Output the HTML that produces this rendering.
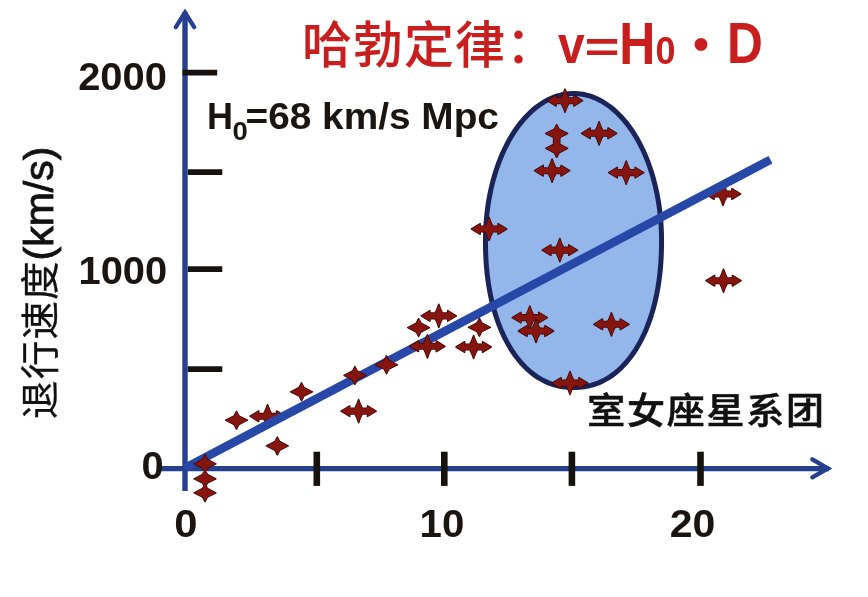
<!DOCTYPE html>
<html><head><meta charset="utf-8"><style>
html,body{margin:0;padding:0;background:#fff;}
svg{display:block;}
.mk{fill:#86150f;stroke:#3a0604;stroke-width:1.5;stroke-linejoin:round;paint-order:stroke;}
.num{font-family:"Liberation Sans",sans-serif;font-weight:bold;fill:#1a1511;}
</style></head><body>
<svg width="868" height="597" viewBox="0 0 868 597">
<rect width="868" height="597" fill="#fff"/>
<!-- ellipse -->
<path d="M661.55,240.50 L661.52,245.46 L661.44,249.95 L661.30,254.27 L661.10,258.49 L660.85,262.62 L660.54,266.67 L660.18,270.67 L659.76,274.60 L659.28,278.48 L658.76,282.31 L658.17,286.08 L657.53,289.80 L656.84,293.47 L656.10,297.09 L655.30,300.65 L654.45,304.16 L653.54,307.62 L652.59,311.02 L651.58,314.36 L650.52,317.64 L649.41,320.87 L648.26,324.03 L647.05,327.13 L645.80,330.17 L644.49,333.14 L643.14,336.05 L641.75,338.89 L640.30,341.66 L638.82,344.36 L637.28,346.99 L635.71,349.55 L634.09,352.03 L632.43,354.44 L630.73,356.77 L628.99,359.02 L627.21,361.20 L625.39,363.29 L623.53,365.31 L621.64,367.24 L619.71,369.09 L617.74,370.86 L615.74,372.54 L613.70,374.13 L611.63,375.64 L609.53,377.06 L607.40,378.40 L605.23,379.64 L603.03,380.80 L600.80,381.86 L598.54,382.83 L596.25,383.72 L593.93,384.51 L591.57,385.21 L589.18,385.82 L586.75,386.33 L584.27,386.75 L581.75,387.08 L579.16,387.31 L576.47,387.45 L573.50,387.50 L570.53,387.45 L567.84,387.31 L565.25,387.08 L562.73,386.75 L560.25,386.33 L557.82,385.82 L555.43,385.21 L553.07,384.51 L550.75,383.72 L548.46,382.83 L546.20,381.86 L543.97,380.80 L541.77,379.64 L539.60,378.40 L537.47,377.06 L535.37,375.64 L533.30,374.13 L531.26,372.54 L529.26,370.86 L527.29,369.09 L525.36,367.24 L523.47,365.31 L521.61,363.29 L519.79,361.20 L518.01,359.02 L516.27,356.77 L514.57,354.44 L512.91,352.03 L511.29,349.55 L509.72,346.99 L508.18,344.36 L506.70,341.66 L505.25,338.89 L503.86,336.05 L502.51,333.14 L501.20,330.17 L499.95,327.13 L498.74,324.03 L497.59,320.87 L496.48,317.64 L495.42,314.36 L494.41,311.02 L493.46,307.62 L492.55,304.16 L491.70,300.65 L490.90,297.09 L490.16,293.47 L489.47,289.80 L488.83,286.08 L488.24,282.31 L487.72,278.48 L487.24,274.60 L486.82,270.67 L486.46,266.67 L486.15,262.62 L485.90,258.49 L485.70,254.27 L485.56,249.95 L485.48,245.46 L485.45,240.50 L485.48,236.65 L485.57,232.81 L485.72,228.97 L485.93,225.13 L486.20,221.31 L486.53,217.50 L486.92,213.71 L487.37,209.94 L487.88,206.18 L488.45,202.45 L489.08,198.75 L489.76,195.07 L490.50,191.43 L491.30,187.82 L492.15,184.25 L493.06,180.71 L494.03,177.21 L495.05,173.76 L496.12,170.36 L497.25,167.00 L498.43,163.69 L499.66,160.44 L500.94,157.24 L502.27,154.10 L503.65,151.01 L505.07,147.99 L506.55,145.03 L508.07,142.14 L509.63,139.31 L511.24,136.56 L512.89,133.87 L514.58,131.26 L516.32,128.72 L518.09,126.26 L519.90,123.88 L521.75,121.57 L523.63,119.35 L525.54,117.22 L527.49,115.16 L529.47,113.19 L531.49,111.31 L533.53,109.52 L535.59,107.82 L537.69,106.21 L539.80,104.69 L541.95,103.26 L544.11,101.93 L546.29,100.69 L548.49,99.55 L550.71,98.51 L552.95,97.56 L555.19,96.71 L557.45,95.96 L559.73,95.31 L562.01,94.76 L564.30,94.31 L566.59,93.95 L568.89,93.70 L571.20,93.55 L573.50,93.50 L575.80,93.55 L578.11,93.70 L580.41,93.95 L582.70,94.31 L584.99,94.76 L587.27,95.31 L589.55,95.96 L591.81,96.71 L594.05,97.56 L596.29,98.51 L598.51,99.55 L600.71,100.69 L602.89,101.93 L605.05,103.26 L607.20,104.69 L609.31,106.21 L611.41,107.82 L613.47,109.52 L615.51,111.31 L617.52,113.19 L619.51,115.16 L621.46,117.22 L623.37,119.35 L625.25,121.57 L627.10,123.88 L628.91,126.26 L630.68,128.72 L632.42,131.26 L634.11,133.87 L635.76,136.56 L637.37,139.31 L638.93,142.14 L640.45,145.03 L641.93,147.99 L643.35,151.01 L644.73,154.10 L646.06,157.24 L647.34,160.44 L648.57,163.69 L649.75,167.00 L650.88,170.36 L651.95,173.76 L652.97,177.21 L653.94,180.71 L654.85,184.25 L655.70,187.82 L656.50,191.43 L657.24,195.07 L657.92,198.75 L658.55,202.45 L659.12,206.18 L659.63,209.94 L660.08,213.71 L660.47,217.50 L660.80,221.31 L661.07,225.13 L661.28,228.97 L661.43,232.81 L661.52,236.65Z" fill="#93b6eb" stroke="#1b2459" stroke-width="5.0"/>
<!-- axes -->
<g stroke="#263f8e" fill="none">
<line x1="185" y1="491" x2="185" y2="12" stroke-width="5.4"/>
<line x1="156.7" y1="468.6" x2="829" y2="468.6" stroke-width="5.3"/>
<polyline points="175.8,27.2 185,12.5 194.2,27.2" stroke-width="4.3" stroke-linecap="round" stroke-linejoin="miter" stroke-miterlimit="10"/>
<polyline points="812.3,459.3 828,468.4 812.3,477.3" stroke-width="4.3" stroke-linecap="round" stroke-linejoin="miter" stroke-miterlimit="10"/>
</g>
<!-- ticks -->
<g stroke="#16120f" stroke-width="5.8">
<line x1="182.6" y1="72.7" x2="217.2" y2="72.7"/>
<line x1="187.8" y1="172.2" x2="222.3" y2="172.2"/>
<line x1="187.8" y1="269.2" x2="222.3" y2="269.2"/>
<line x1="187.8" y1="369.2" x2="222.3" y2="369.2"/>
</g>
<g stroke="#16120f" stroke-width="6.6">
<line x1="316.8" y1="451.7" x2="316.8" y2="485.9"/>
<line x1="444.3" y1="451.7" x2="444.3" y2="485.9"/>
<line x1="571.9" y1="451.7" x2="571.9" y2="485.9"/>
<line x1="700.5" y1="451.7" x2="700.5" y2="485.9"/>
</g>
<path class="mk" d="M723.00,182.40 Q725.00,188.40 726.70,191.20 L731.90,191.20 L731.90,188.70 L740.60,194.00 L731.90,199.30 L731.90,196.80 L726.70,196.80 Q725.00,199.60 723.00,205.60 Q721.00,199.60 719.30,196.80 L714.10,196.80 L714.10,199.30 L705.40,194.00 L714.10,188.70 L714.10,191.20 L719.30,191.20 Q721.00,188.40 723.00,182.40Z"/>
<path class="mk" d="M267.60,404.60 Q269.60,410.60 271.30,413.40 L276.50,413.40 L276.50,410.90 L285.20,416.20 L276.50,421.50 L276.50,419.00 L271.30,419.00 Q269.60,421.80 267.60,427.80 Q265.60,421.80 263.90,419.00 L258.70,419.00 L258.70,421.50 L250.00,416.20 L258.70,410.90 L258.70,413.40 L263.90,413.40 Q265.60,410.60 267.60,404.60Z"/>
<!-- regression line -->
<line x1="185" y1="468" x2="770.5" y2="159.7" stroke="#2848a8" stroke-width="8.5"/>
<!-- markers -->
<path class="mk" d="M545.8,133.5 L554.4,129.1 L556.7,124.6 L559.0,129.1 L567.6,133.5 L559.0,137.9 L556.7,142.4 L554.4,137.9Z M545.8,148.4 L554.4,144.0 L556.7,139.5 L559.0,144.0 L567.6,148.4 L559.0,152.8 L556.7,157.3 L554.4,152.8Z M553.6,136 L559.8,136 L559.8,146 L553.6,146Z"/>
<path class="mk" d="M194.1,463.8 L202.7,459.4 L205.0,454.9 L207.3,459.4 L215.9,463.8 L207.3,468.2 L205.0,472.7 L202.7,468.2Z M194.1,478.8 L202.7,474.4 L205.0,469.9 L207.3,474.4 L215.9,478.8 L207.3,483.2 L205.0,487.7 L202.7,483.2Z M194.1,492.8 L202.7,488.4 L205.0,483.9 L207.3,488.4 L215.9,492.8 L207.3,497.2 L205.0,501.7 L202.7,497.2Z"/>
<path class="mk" d="M225.6,420.2 L234.2,415.8 L236.5,411.3 L238.8,415.8 L247.4,420.2 L238.8,424.6 L236.5,429.1 L234.2,424.6Z"/>
<path class="mk" d="M266.4,445.9 L275.0,441.5 L277.3,437.0 L279.6,441.5 L288.2,445.9 L279.6,450.3 L277.3,454.8 L275.0,450.3Z"/>
<path class="mk" d="M290.6,391.8 L299.2,387.4 L301.5,382.9 L303.8,387.4 L312.4,391.8 L303.8,396.2 L301.5,400.7 L299.2,396.2Z"/>
<path class="mk" d="M344.0,375.4 L352.6,371.0 L354.9,366.5 L357.2,371.0 L365.8,375.4 L357.2,379.8 L354.9,384.3 L352.6,379.8Z"/>
<path class="mk" d="M375.6,364.8 L384.2,360.4 L386.5,355.9 L388.8,360.4 L397.4,364.8 L388.8,369.2 L386.5,373.7 L384.2,369.2Z"/>
<path class="mk" d="M407.7,327.6 L416.3,323.2 L418.6,318.7 L420.9,323.2 L429.5,327.6 L420.9,332.0 L418.6,336.5 L416.3,332.0Z"/>
<path class="mk" d="M468.5,327.3 L477.1,322.9 L479.4,318.4 L481.7,322.9 L490.3,327.3 L481.7,331.7 L479.4,336.2 L477.1,331.7Z"/>
<path class="mk" d="M358.60,399.50 Q360.60,405.50 362.30,408.30 L367.50,408.30 L367.50,405.80 L376.20,411.10 L367.50,416.40 L367.50,413.90 L362.30,413.90 Q360.60,416.70 358.60,422.70 Q356.60,416.70 354.90,413.90 L349.70,413.90 L349.70,416.40 L341.00,411.10 L349.70,405.80 L349.70,408.30 L354.90,408.30 Q356.60,405.50 358.60,399.50Z"/>
<path class="mk" d="M438.80,304.30 Q440.80,310.30 442.50,313.10 L447.70,313.10 L447.70,310.60 L456.40,315.90 L447.70,321.20 L447.70,318.70 L442.50,318.70 Q440.80,321.50 438.80,327.50 Q436.80,321.50 435.10,318.70 L429.90,318.70 L429.90,321.20 L421.20,315.90 L429.90,310.60 L429.90,313.10 L435.10,313.10 Q436.80,310.30 438.80,304.30Z"/>
<path class="mk" d="M427.40,334.70 Q429.40,340.70 431.10,343.50 L436.30,343.50 L436.30,341.00 L445.00,346.30 L436.30,351.60 L436.30,349.10 L431.10,349.10 Q429.40,351.90 427.40,357.90 Q425.40,351.90 423.70,349.10 L418.50,349.10 L418.50,351.60 L409.80,346.30 L418.50,341.00 L418.50,343.50 L423.70,343.50 Q425.40,340.70 427.40,334.70Z"/>
<path class="mk" d="M473.60,335.40 Q475.60,341.40 477.30,344.20 L482.50,344.20 L482.50,341.70 L491.20,347.00 L482.50,352.30 L482.50,349.80 L477.30,349.80 Q475.60,352.60 473.60,358.60 Q471.60,352.60 469.90,349.80 L464.70,349.80 L464.70,352.30 L456.00,347.00 L464.70,341.70 L464.70,344.20 L469.90,344.20 Q471.60,341.40 473.60,335.40Z"/>
<path class="mk" d="M489.10,217.40 Q491.10,223.40 492.80,226.20 L498.00,226.20 L498.00,223.70 L506.70,229.00 L498.00,234.30 L498.00,231.80 L492.80,231.80 Q491.10,234.60 489.10,240.60 Q487.10,234.60 485.40,231.80 L480.20,231.80 L480.20,234.30 L471.50,229.00 L480.20,223.70 L480.20,226.20 L485.40,226.20 Q487.10,223.40 489.10,217.40Z"/>
<path class="mk" d="M559.80,238.50 Q561.80,244.50 563.50,247.30 L568.70,247.30 L568.70,244.80 L577.40,250.10 L568.70,255.40 L568.70,252.90 L563.50,252.90 Q561.80,255.70 559.80,261.70 Q557.80,255.70 556.10,252.90 L550.90,252.90 L550.90,255.40 L542.20,250.10 L550.90,244.80 L550.90,247.30 L556.10,247.30 Q557.80,244.50 559.80,238.50Z"/>
<path class="mk" d="M565.00,89.10 Q567.00,95.10 568.70,97.90 L573.90,97.90 L573.90,95.40 L582.60,100.70 L573.90,106.00 L573.90,103.50 L568.70,103.50 Q567.00,106.30 565.00,112.30 Q563.00,106.30 561.30,103.50 L556.10,103.50 L556.10,106.00 L547.40,100.70 L556.10,95.40 L556.10,97.90 L561.30,97.90 Q563.00,95.10 565.00,89.10Z"/>
<path class="mk" d="M599.10,121.70 Q601.10,127.70 602.80,130.50 L608.00,130.50 L608.00,128.00 L616.70,133.30 L608.00,138.60 L608.00,136.10 L602.80,136.10 Q601.10,138.90 599.10,144.90 Q597.10,138.90 595.40,136.10 L590.20,136.10 L590.20,138.60 L581.50,133.30 L590.20,128.00 L590.20,130.50 L595.40,130.50 Q597.10,127.70 599.10,121.70Z"/>
<path class="mk" d="M552.10,159.10 Q554.10,165.10 555.80,167.90 L561.00,167.90 L561.00,165.40 L569.70,170.70 L561.00,176.00 L561.00,173.50 L555.80,173.50 Q554.10,176.30 552.10,182.30 Q550.10,176.30 548.40,173.50 L543.20,173.50 L543.20,176.00 L534.50,170.70 L543.20,165.40 L543.20,167.90 L548.40,167.90 Q550.10,165.10 552.10,159.10Z"/>
<path class="mk" d="M626.20,161.00 Q628.20,167.00 629.90,169.80 L635.10,169.80 L635.10,167.30 L643.80,172.60 L635.10,177.90 L635.10,175.40 L629.90,175.40 Q628.20,178.20 626.20,184.20 Q624.20,178.20 622.50,175.40 L617.30,175.40 L617.30,177.90 L608.60,172.60 L617.30,167.30 L617.30,169.80 L622.50,169.80 Q624.20,167.00 626.20,161.00Z"/>
<path class="mk" d="M529.80,306.00 Q531.80,312.00 533.50,314.80 L538.70,314.80 L538.70,312.30 L547.40,317.60 L538.70,322.90 L538.70,320.40 L533.50,320.40 Q531.80,323.20 529.80,329.20 Q527.80,323.20 526.10,320.40 L520.90,320.40 L520.90,322.90 L512.20,317.60 L520.90,312.30 L520.90,314.80 L526.10,314.80 Q527.80,312.00 529.80,306.00Z"/>
<path class="mk" d="M536.00,319.40 Q538.00,325.40 539.70,328.20 L544.90,328.20 L544.90,325.70 L553.60,331.00 L544.90,336.30 L544.90,333.80 L539.70,333.80 Q538.00,336.60 536.00,342.60 Q534.00,336.60 532.30,333.80 L527.10,333.80 L527.10,336.30 L518.40,331.00 L527.10,325.70 L527.10,328.20 L532.30,328.20 Q534.00,325.40 536.00,319.40Z"/>
<path class="mk" d="M611.40,312.70 Q613.40,318.70 615.10,321.50 L620.30,321.50 L620.30,319.00 L629.00,324.30 L620.30,329.60 L620.30,327.10 L615.10,327.10 Q613.40,329.90 611.40,335.90 Q609.40,329.90 607.70,327.10 L602.50,327.10 L602.50,329.60 L593.80,324.30 L602.50,319.00 L602.50,321.50 L607.70,321.50 Q609.40,318.70 611.40,312.70Z"/>
<path class="mk" d="M570.00,371.40 Q572.00,377.40 573.70,380.20 L578.90,380.20 L578.90,377.70 L587.60,383.00 L578.90,388.30 L578.90,385.80 L573.70,385.80 Q572.00,388.60 570.00,394.60 Q568.00,388.60 566.30,385.80 L561.10,385.80 L561.10,388.30 L552.40,383.00 L561.10,377.70 L561.10,380.20 L566.30,380.20 Q568.00,377.40 570.00,371.40Z"/>
<path class="mk" d="M723.50,269.10 Q725.50,275.10 727.20,277.90 L732.40,277.90 L732.40,275.40 L741.10,280.70 L732.40,286.00 L732.40,283.50 L727.20,283.50 Q725.50,286.30 723.50,292.30 Q721.50,286.30 719.80,283.50 L714.60,283.50 L714.60,286.00 L705.90,280.70 L714.60,275.40 L714.60,277.90 L719.80,277.90 Q721.50,275.10 723.50,269.10Z"/>
<!-- labels -->
<g class="num" font-size="38">
<text transform="translate(166.9,89.8) scale(1.05,1)" text-anchor="end">2000</text>
<text transform="translate(167.2,283.5) scale(1.05,1.02)" text-anchor="end">1000</text>
<text transform="translate(163.8,478.6) scale(1.05,1)" text-anchor="end">0</text>
<text transform="translate(185.8,537.4) scale(1.1,1)" text-anchor="middle">0</text>
<text transform="translate(442,537.4) scale(1.06,1)" text-anchor="middle">10</text>
<text transform="translate(692.6,537.4) scale(1.08,1)" text-anchor="middle">20</text>
</g>
<g class="num" font-size="36">
<text x="207" y="128.9">H</text>
<text transform="translate(232.5,139.5) scale(1.1,1)" font-size="25">0</text>
<text transform="translate(245.5,128.9) scale(1.078,1)" x="0" y="0">=68 km/s Mpc</text>
</g>
<!-- y label -->
<text transform="translate(54,419) rotate(-90)" font-size="38.5" letter-spacing="1.2" style="font-family:'Liberation Sans','Noto Sans CJK SC',sans-serif;fill:#111;stroke:#111;stroke-width:0.3">退行速度</text>
<text transform="translate(53,260.5) rotate(-90)" font-size="41" style="font-family:'Liberation Sans',sans-serif;fill:#111;stroke:#111;stroke-width:0.9">(km/s)</text>
<!-- virgo -->
<text transform="translate(587.3,423.6) scale(1,0.955)" font-size="38" font-weight="500" letter-spacing="1.75" style="font-family:'Liberation Sans','Noto Sans CJK SC',sans-serif;fill:#111;stroke:#111;stroke-width:0.6">室女座星系团</text>
<!-- title -->
<text x="302" y="63" font-size="50" font-weight="500" letter-spacing="1" style="font-family:'Liberation Sans','Noto Sans CJK SC',sans-serif;fill:#c81e1e;stroke:#c81e1e;stroke-width:0.1">哈勃定律：</text>
<g style="font-family:'Liberation Sans',sans-serif;font-weight:bold;fill:#c81e1e;">
<text transform="translate(558,62.8) scale(0.89,1)" font-size="54">v</text>
<text transform="translate(584.6,61.7) scale(1.115,0.8)" font-size="54">=</text>
<text transform="translate(619.2,63.8) scale(0.925,1.08)" font-size="54">H</text>
<text transform="translate(655.4,63.8) scale(1.0,1.08)" font-size="36">0</text>
<text x="676" y="62.7" font-size="50" style="font-family:'Noto Sans CJK SC',sans-serif;font-weight:bold;">・</text>
<text transform="translate(727,62.8) scale(0.92,1.06)" font-size="54">D</text>
</g>
</svg>
</body></html>
